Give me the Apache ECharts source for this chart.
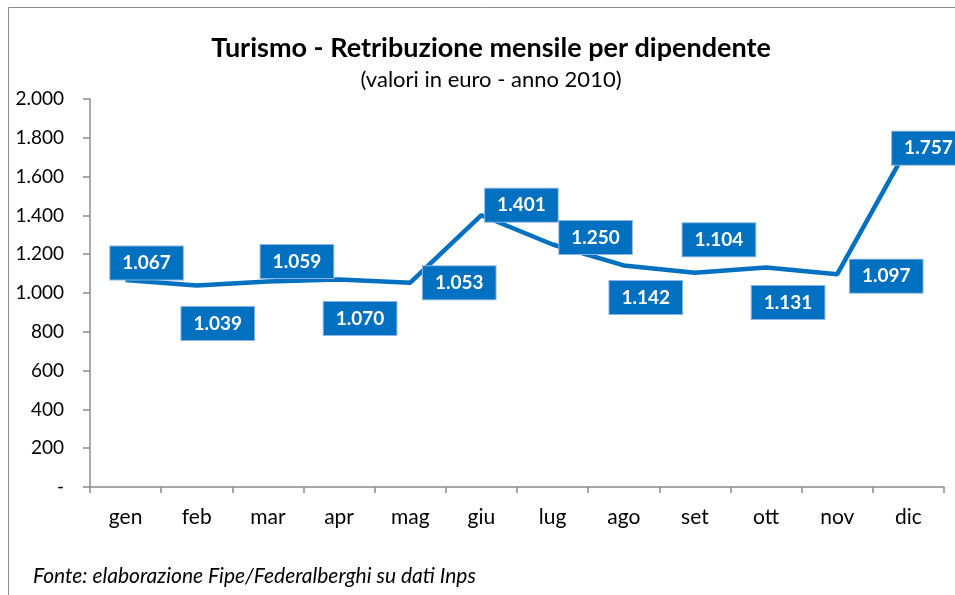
<!DOCTYPE html>
<html>
<head>
<meta charset="utf-8">
<script src="https://cdn.jsdelivr.net/npm/echarts@6/dist/echarts.min.js"></script>
<style>
  html, body { margin: 0; padding: 0; background: #fff; }
  #chart { width: 955px; height: 595px; }
</style>
</head>
<body>
<div id="chart"></div>
<script>
// dati
var mesi = ['gen', 'feb', 'mar', 'apr', 'mag', 'giu', 'lug', 'ago', 'set', 'ott', 'nov', 'dic'];
var retribuzione = [1067, 1039, 1059, 1070, 1053, 1401, 1250, 1142, 1104, 1131, 1097, 1757];
var yTicks = [0, 200, 400, 600, 800, 1000, 1200, 1400, 1600, 1800, 2000];

// spostamento delle etichette rispetto al punto (px)
var labelShift = [
  [21, -17], [21, 38], [29, -20], [21, 39], [49, 0], [40, -10],
  [43, -7], [22, 32], [24, -33], [22, 35], [49, 2], [20, 2]
];

function fmt(v) {
  if (v === 0) return '-';
  return String(v).replace(/\B(?=(\d{3})+(?!\d))/g, '.');
}

var FONT = 'Lato, "Open Sans", sans-serif';
var blu = '#0070C0';

var chart = echarts.init(document.getElementById('chart'));

var option = {
  animation: false,
  backgroundColor: '#fff',
  textStyle: { fontFamily: FONT },
  title: {
    text: 'Turismo - Retribuzione mensile per dipendente',
    subtext: '(valori in euro - anno 2010)',
    left: 486,
    textAlign: 'center',
    top: 30,
    itemGap: 7,
    textStyle: { fontFamily: FONT, fontSize: 27, fontWeight: 'bold', color: '#000' },
    subtextStyle: { fontFamily: FONT, fontSize: 22, color: '#000' }
  },
  graphic: [
    {
      type: 'rect',
      shape: { x: 8.5, y: 7.5, width: 1000, height: 1000 },
      style: { fill: 'none', stroke: '#8c8c8c', lineWidth: 1 },
      silent: true
    },
    {
      type: 'text',
      left: 33,
      top: 566,
      style: {
        text: 'Fonte: elaborazione Fipe/Federalberghi su dati Inps',
        font: 'italic 21px ' + FONT,
        fill: '#000'
      }
    }
  ],
  grid: { left: 90, right: 11, top: 99, bottom: 108 },
  xAxis: {
    type: 'category',
    data: mesi,
    boundaryGap: true,
    axisLine: { lineStyle: { color: '#8c8c8c', width: 1.5 } },
    axisTick: { show: true, interval: 0, length: 6, lineStyle: { color: '#8c8c8c', width: 1.5 } },
    axisLabel: { fontSize: 21, color: '#000', margin: 20, fontFamily: FONT }
  },
  yAxis: {
    type: 'value',
    min: yTicks[0],
    max: yTicks[yTicks.length - 1],
    interval: yTicks[1] - yTicks[0],
    splitLine: { show: false },
    axisLine: { show: true, lineStyle: { color: '#8c8c8c', width: 1.5 } },
    axisTick: { show: true, length: 7, lineStyle: { color: '#8c8c8c', width: 1.5 } },
    axisLabel: { fontSize: 19, color: '#000', margin: 26, fontFamily: FONT, formatter: fmt }
  },
  series: [
    {
      type: 'line',
      data: retribuzione.map(function (v, i) {
        return {
          value: v,
          label: { position: labelShift[i] }
        };
      }),
      symbol: 'circle',
      symbolSize: 0,
      showSymbol: true,
      lineStyle: { color: blu, width: 4.5 },
      itemStyle: { color: blu },
      label: {
        show: true,
        align: 'center',
        verticalAlign: 'middle',
        formatter: function (p) { return fmt(p.value); },
        color: '#fff',
        fontFamily: FONT,
        fontWeight: 'bold',
        fontSize: 19,
        lineHeight: 19,
        backgroundColor: blu,
        borderColor: '#8db3e2',
        borderWidth: 1,
        padding: [7, 12, 7, 12]
      },
      labelLayout: { hideOverlap: false },
      z: 3
    }
  ]
};

chart.setOption(option);
</script>
</body>
</html>
